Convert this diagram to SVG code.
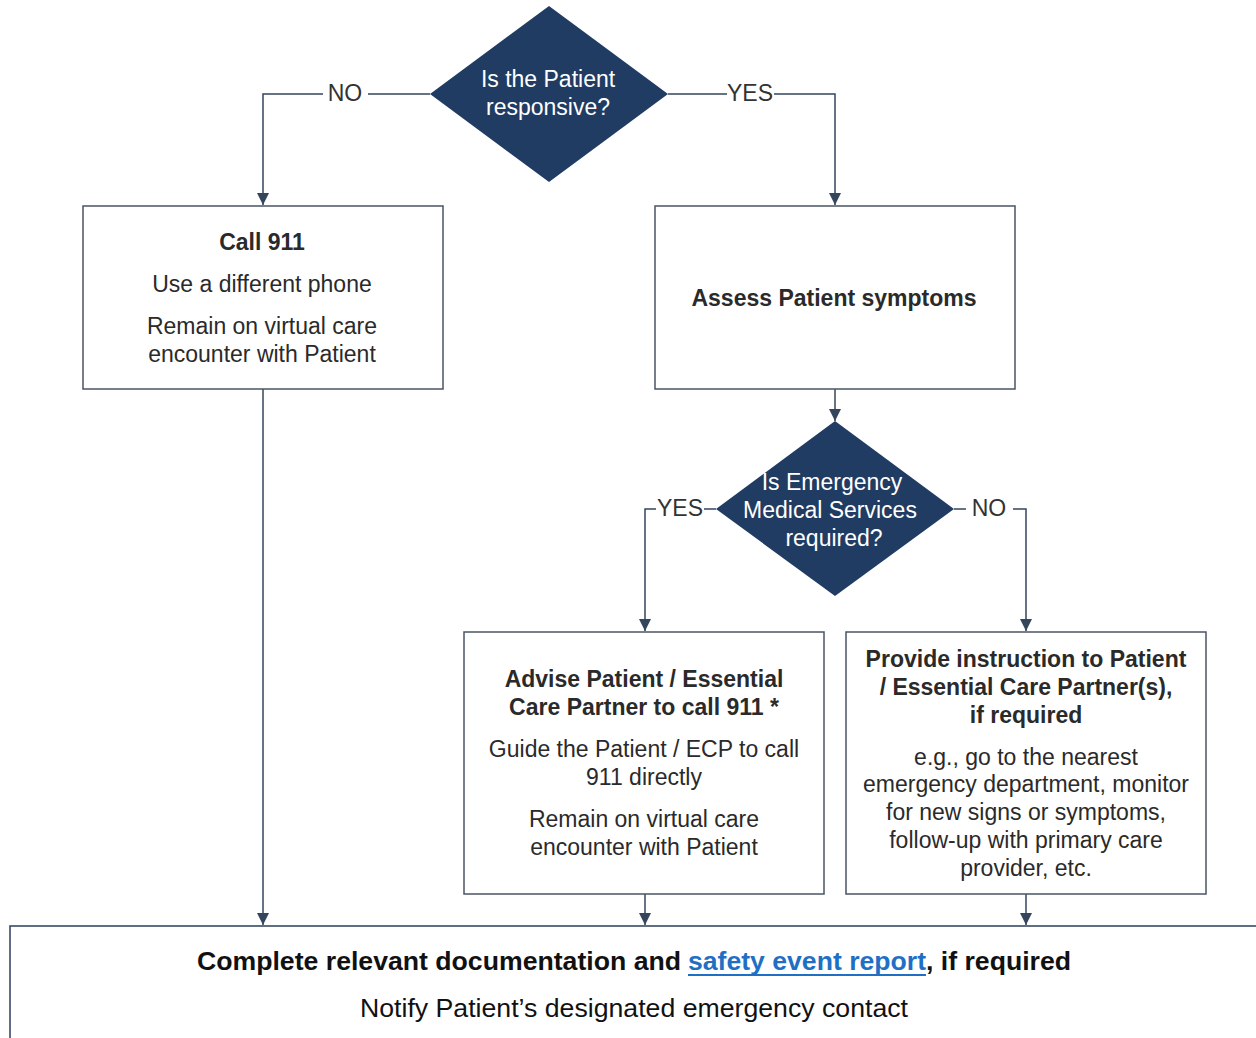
<svg xmlns="http://www.w3.org/2000/svg" width="1256" height="1038" viewBox="0 0 1256 1038">
<defs>
<marker id="ah" viewBox="0 0 10 10" refX="10" refY="5" markerWidth="12" markerHeight="12" markerUnits="userSpaceOnUse" orient="auto">
<path d="M0,0 L10,5 L0,10 z" fill="#34465c"/>
</marker>
</defs>
<style>
text{font-family:"Liberation Sans",Arial,sans-serif;font-size:23px;fill:#2a2a2a;text-anchor:middle}
.b{font-weight:bold}
.w{fill:#ffffff}
.box{fill:#ffffff;stroke:#4a5563;stroke-width:1.5}
.dia{fill:#203c62}
.ln{fill:none;stroke:#34465c;stroke-width:1.5}
.lbl{fill:#333333}
</style>
<rect width="1256" height="1038" fill="#ffffff"/>
<g id="connectors">
<path class="ln" d="M430,94 H368 M323,94 H263 V205" marker-end="url(#ah)"/>
<path class="ln" d="M668,94 H727 M774,94 H835 V205" marker-end="url(#ah)"/>
<path class="ln" d="M835,389 V421" marker-end="url(#ah)"/>
<path class="ln" d="M716,509 H704 M656,509 H645 V631" marker-end="url(#ah)"/>
<path class="ln" d="M954,509 H966 M1013,509 H1026 V631" marker-end="url(#ah)"/>
<path class="ln" d="M263,389 V925" marker-end="url(#ah)"/>
<path class="ln" d="M645,894 V925" marker-end="url(#ah)"/>
<path class="ln" d="M1026,894 V925" marker-end="url(#ah)"/>
<text class="lbl" x="345" y="101">NO</text>
<text class="lbl" x="750" y="101">YES</text>
<text class="lbl" x="680" y="516">YES</text>
<text class="lbl" x="989" y="516">NO</text>
</g>
<g id="d1">
<polygon class="dia" points="549,6 668,94 549,182 430,94"/>
<text class="w" x="548" y="87">Is the Patient</text>
<text class="w" x="548" y="115">responsive?</text>
</g>
<g id="d2">
<polygon class="dia" points="835,421 954,509 835,596 716,509"/>
<text class="w" x="832" y="490">Is Emergency</text>
<text class="w" x="830" y="518">Medical Services</text>
<text class="w" x="834" y="546">required?</text>
</g>
<g id="call911">
<rect class="box" x="83" y="206" width="360" height="183"/>
<text class="b" x="262" y="250">Call 911</text>
<text x="262" y="292">Use a different phone</text>
<text x="262" y="334">Remain on virtual care</text>
<text x="262" y="362">encounter with Patient</text>
</g>
<g id="assess">
<rect class="box" x="655" y="206" width="360" height="183"/>
<text class="b" x="834" y="306">Assess Patient symptoms</text>
</g>
<g id="advise">
<rect class="box" x="464" y="632" width="360" height="262"/>
<text class="b" x="644" y="687">Advise Patient / Essential</text>
<text class="b" x="644" y="715">Care Partner to call 911 *</text>
<text x="644" y="757">Guide the Patient / ECP to call</text>
<text x="644" y="785">911 directly</text>
<text x="644" y="827">Remain on virtual care</text>
<text x="644" y="855">encounter with Patient</text>
</g>
<g id="provide">
<rect class="box" x="846" y="632" width="360" height="262"/>
<text class="b" x="1026" y="667">Provide instruction to Patient</text>
<text class="b" x="1026" y="695">/ Essential Care Partner(s),</text>
<text class="b" x="1026" y="723">if required</text>
<text x="1026" y="765">e.g., go to the nearest</text>
<text x="1026" y="792">emergency department, monitor</text>
<text x="1026" y="820">for new signs or symptoms,</text>
<text x="1026" y="848">follow-up with primary care</text>
<text x="1026" y="876">provider, etc.</text>
</g>
<g id="final">
<rect x="10" y="926" width="1260" height="130" fill="#ffffff" stroke="#2b3f5a" stroke-width="1.5"/>
<text class="b" style="font-size:25px;text-anchor:start;fill:#111" x="197" y="970" textLength="484" lengthAdjust="spacingAndGlyphs">Complete relevant documentation and</text>
<text class="b" style="font-size:25px;text-anchor:start;fill:#1f6fc5" x="688" y="970" textLength="238" lengthAdjust="spacingAndGlyphs">safety event report</text>
<line x1="688" y1="975" x2="926" y2="975" stroke="#1f6fc5" stroke-width="2"/>
<text class="b" style="font-size:25px;text-anchor:start;fill:#111" x="926" y="970" textLength="145" lengthAdjust="spacingAndGlyphs">, if required</text>
<text style="font-size:25px;fill:#111" x="634" y="1017" textLength="548" lengthAdjust="spacingAndGlyphs">Notify Patient’s designated emergency contact</text>
</g>
</svg>
